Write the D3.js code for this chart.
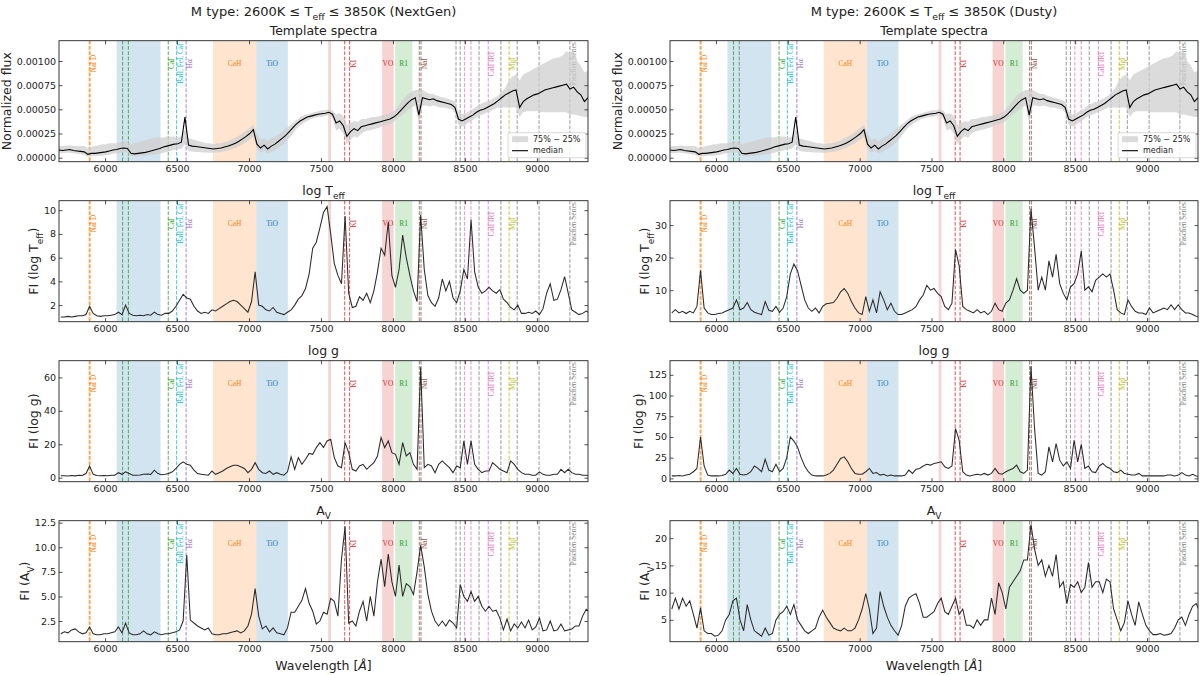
<!DOCTYPE html>
<html><head><meta charset="utf-8">
<script src="https://cdn.jsdelivr.net/npm/d3@7"></script>
<style>body{margin:0;background:#fff}svg{display:block}</style>
</head><body><svg id="c" width="1200" height="675" font-family="DejaVu Sans, sans-serif"></svg>
<script>
// ---------------- DATA ----------------
const WAVE_START = 5680, WAVE_STEP = 25, N_WAVE = 148;
const wave = d3.range(N_WAVE).map(i => WAVE_START + i * WAVE_STEP);
const FLUX_UNIT = 1e-5;

const tplMedian = [8,7.5,8,8.5,7.5,7,6.5,6,3.5,4.5,
4.5,5,5.5,6,7,8,8.5,9.5,10,9.5,
4.5,4,4.5,5,5.5,6.5,7.5,8.5,9.5,11,
12,13,14,14.5,16,42,13,12,11.5,11,
10.5,10,9.5,9,9.5,10,11,12,13.5,15,
17,19.5,22,25,29,14,10,13,9,12,
14,17,20,23,27,31,35,38,40,42,
43,44,45,45.5,46,47,45,36,38,33,
22,27,30,28,32,33,34,35,36,37,
38,39,40,42,45,49,53,57,60,62,
44,62,61,60,61,59,58,57,56,55,
52,40,38,40,42,44,47,49,50,52,
54,56,59,62,65,67,69,70,52,58,
61,63,65,66,68,70,71,72,73,74,
75,76,71,73,68,65,58,62];
const tplQ75 = [12,12,12,13,12,12,12,12,10,11,
12,13,14,14,15,15,15,16,17,17,
14,15,16,17,18,19,20,21,21,21,
22,22,22,21,22,30,20,19,18,17,
16,15,15,14,15,15,16,17,19,21,
23,25,28,31,34,25,18,20,17,20,
22,24,27,30,33,36,39,42,44,45,
46,47,48,49,49,50,49,45,46,43,
34,36,38,37,40,40,41,42,42,43,
44,45,46,48,52,57,62,66,68,70,
70,70,68,66,66,64,63,62,61,60,
58,48,45,46,48,50,53,55,57,58,
60,62,64,68,72,80,84,86,80,86,
88,90,92,94,96,98,100,102,103,104,
106,110,108,112,100,95,88,90];
const tplQ25 = [5,4.5,5,5,4.5,4,3.5,3,1,1.5,
1.5,2,2,2.5,3,4,4.5,5,5.5,5,
1.5,1.5,1.5,2,2,2.5,3,3.5,4,5,
6,7,8,8.5,9.5,14,7,6.5,6,6,
5.5,5.5,5,5,5.5,6,6.5,7.5,9,10,
12,14,16,19,22,9,5,7,4,6,
8,10,13,16,20,25,30,33,36,38,
40,41,42,42,43,44,41,28,30,25,
14,19,22,21,25,27,28,29,30,31,
33,34,35,37,40,43,46,49,52,54,
36,54,54,53,54,53,52,52,51,50,
47,34,32,34,37,39,42,44,45,47,
48,50,52,52,52,52,52,52,42,47,
48,48,48,48,47,47,47,47,47,47,
47,47,44,45,44,43,42,42];

const teffNG = [1.0,1.0,1.05,1.0,1.05,1.1,1.1,1.2,1.9,1.3,
1.1,1.05,1.1,1.1,1.15,1.2,1.4,1.2,2.0,1.3,
1.15,1.1,1.15,1.1,1.2,1.15,1.4,1.2,1.15,1.3,
1.3,1.5,1.9,2.4,2.9,2.6,2.5,1.9,1.5,1.3,
1.4,1.3,1.6,1.5,1.7,1.9,2.1,2.3,2.4,2.3,
2.0,1.7,1.4,2.3,4.8,2.0,1.9,1.6,1.5,1.8,
1.4,1.3,1.2,1.4,1.6,2.0,2.5,2.8,3.4,4.6,
6.8,7.3,8.5,9.8,10.3,8.0,5.5,4.5,3.8,9.5,
3.0,1.8,1.9,2.7,2.4,3.0,2.2,3.2,4.8,6.8,
6.2,9.0,4.5,3.5,5.0,7.9,6.0,4.5,3.2,2.3,
9.6,5.0,2.8,2.2,1.9,2.6,4.2,3.2,4.0,2.6,
2.2,3.2,5.0,4.2,9.2,4.8,3.5,3.0,3.2,3.5,
3.2,3.0,3.3,2.5,2.2,1.8,1.6,2.0,1.3,1.3,
1.4,1.3,1.5,1.2,1.7,3.0,3.8,2.4,2.5,3.3,
4.4,3.0,1.6,1.4,1.2,1.3,1.5,1.3];
const loggNG = [1.2,1.2,1.0,1.3,1.1,1.5,1.3,2.5,7.0,2.0,
1.3,1.2,1.3,1.2,1.4,1.5,3.0,2.0,3.5,2.5,
1.5,1.5,1.6,2.0,2.2,2.0,4.5,2.5,1.8,2.0,
2.5,3.5,5.5,8.0,9.5,8.0,7.5,4.5,2.5,2.0,
1.8,1.5,4.0,2.0,3.0,4.0,5.5,6.5,7.5,7.5,
6.5,5.5,3.0,5.0,9.0,5.0,3.0,2.5,4.0,2.0,
3.0,2.0,1.5,3.5,12.5,5.0,12.0,8.0,11.0,14.5,
14.0,18.0,21.0,18.0,22.0,23.0,12.0,7.0,6.0,21.0,
15.0,5.0,4.0,7.0,8.0,5.0,7.0,9.0,13.0,24.0,
18.0,22.0,15.0,14.0,8.0,21.0,13.0,15.0,8.0,5.0,
66.0,6.0,8.0,7.0,3.0,8.0,10.0,8.0,6.0,3.0,
7.0,6.0,22.0,8.0,22.0,8.0,5.0,3.0,4.0,4.0,
9.0,7.0,5.0,4.0,3.0,10.0,8.0,5.0,3.0,2.0,
2.0,1.5,1.5,3.5,2.0,1.5,1.5,2.0,2.0,5.0,
3.0,5.0,3.0,2.0,2.0,1.5,1.5,1.2];
const avNG = [1.2,1.4,1.3,1.6,1.7,1.4,1.2,1.3,1.9,1.2,
1.1,1.1,1.2,1.2,1.3,1.4,1.9,1.3,2.3,1.3,
1.1,1.1,1.2,1.5,1.2,1.1,1.4,1.2,1.1,1.2,
1.2,1.3,1.4,1.6,2.5,9.2,2.6,2.3,2.0,1.8,
1.6,1.8,1.2,1.1,1.1,1.2,1.2,1.3,1.4,1.5,
1.3,1.5,2.0,3.2,5.8,3.0,1.7,2.0,1.4,1.8,
1.3,1.2,1.1,1.8,3.4,3.4,4.0,4.6,5.8,4.3,
3.5,2.2,2.5,3.4,3.2,4.8,4.5,3.0,8.8,12.1,
2.3,2.5,2.0,3.5,4.5,2.5,5.0,3.0,6.5,8.8,
6.0,9.3,6.5,5.0,8.2,5.0,6.3,6.0,5.2,7.5,
10.2,8.0,5.2,3.5,2.5,2.0,2.5,2.0,2.6,2.3,
1.8,6.2,5.0,4.5,5.5,4.5,5.0,4.0,3.5,4.0,
3.5,3.6,2.8,1.6,2.7,1.5,2.2,1.8,2.4,1.8,
2.6,1.6,1.9,2.8,1.5,1.6,2.5,1.5,1.6,2.2,
1.5,1.6,1.7,2.0,2.0,3.0,3.7,3.4];

const teffD = [3.0,4.0,3.0,3.5,2.8,3.5,3.0,5.0,16.0,4.5,
3.0,2.5,2.5,2.8,3.0,3.5,4.0,4.5,7.0,4.0,
4.5,6.2,4.0,3.2,2.8,2.5,6.5,3.8,3.5,5.0,
3.2,4.5,8.0,15.0,18.0,16.0,11.5,7.0,4.5,3.5,
4.5,3.0,5.0,5.8,6.0,6.2,7.5,9.5,10.5,9.0,
6.5,4.5,3.0,2.5,8.0,3.5,7.0,3.0,9.5,7.0,
4.0,6.0,3.5,2.5,2.5,3.0,3.5,4.0,5.0,7.0,
8.5,11.5,10.0,10.5,9.0,8.0,5.0,4.0,6.0,22.5,
17.5,5.0,4.0,3.5,3.0,4.0,3.0,3.5,2.5,3.5,
6.0,4.0,3.5,6.0,7.0,10.0,13.5,10.0,9.0,10.0,
35.0,23.0,10.0,14.0,10.0,19.0,14.0,21.0,12.0,9.0,
7.0,11.0,12.0,15.0,22.0,10.0,11.0,9.5,13.0,14.0,
15.0,14.0,15.0,10.0,4.0,3.0,2.5,7.0,5.0,3.5,
3.0,3.0,2.5,4.5,3.0,3.5,4.0,4.5,4.0,5.5,
4.0,5.5,4.0,3.0,3.0,2.5,2.0,1.8];
const loggD = [3,3,3.5,3,4,5,8,12,50,15,
4,3,3,3,3.5,5,10,6,12,5,
4,5,8,15,12,8,23,10,8,17,
8,12,25,50,45,38,25,15,8,4,
3,3,3,4,6,10,17,24,26,20,
12,6,5,5,8,12,6,7,4,5,
3,4,3,3,3,4,10,6,11,12,
15,17,16,18,19,20,14,12,15,60,
46,8,4,3,4,5,4,6,4,6,
12,6,5,8,10,12,16,8,6,10,
135,60,6,4,8,38,20,42,22,15,
20,12,46,20,41,12,15,8,7,15,
18,14,12,8,7,10,6,5,4,4,
6,3,3,3,3,3,3,3,4,4,
3,4,7,4,3,5,3,2];
const avD = [7.0,9.0,7.0,9.0,7.5,8.5,6.0,3.5,7.2,3.0,
2.5,2.5,2.0,2.2,3.0,5.0,6.0,8.5,9.0,5.0,
3.0,7.8,5.0,3.0,2.5,2.0,3.5,2.2,2.5,5.0,
6.0,6.5,7.5,6.0,7.8,5.0,4.0,3.0,2.5,3.0,
3.5,5.5,6.8,5.5,4.5,3.5,3.2,3.0,3.5,3.0,
3.0,3.5,5.0,7.0,9.8,7.0,2.5,3.5,10.2,7.5,
5.5,4.0,3.0,2.2,4.0,7.5,9.0,9.5,9.8,8.0,
5.5,5.5,6.0,6.5,8.0,9.0,6.5,6.0,7.5,9.0,
6.0,7.0,4.0,4.0,3.5,5.0,4.0,5.0,5.0,9.0,
6.0,11.8,10.0,7.0,11.0,12.0,13.0,14.0,16.0,16.0,
22.5,18.0,15.0,16.0,13.0,15.0,13.0,17.0,11.0,12.0,
8.0,11.5,11.0,12.0,10.0,11.0,15.5,11.0,12.0,12.0,
10.0,12.5,12.0,7.0,5.0,3.0,4.5,8.5,6.0,4.0,
8.3,6.0,4.0,3.0,2.3,2.3,2.5,2.2,2.3,2.5,
3.5,5.0,5.5,4.0,6.0,7.5,8.0,6.5];

const xTicks = [6000,6500,7000,7500,8000,8500,9000];
const fluxTicks = [0,0.00025,0.0005,0.00075,0.001];
const teffNGTicks = [2,4,6,8,10];
const loggNGTicks = [0,20,40,60];
const avNGTicks = [2.5,5,7.5,10,12.5];
const teffDTicks = [10,20,30];
const loggDTicks = [0,25,50,75,100,125];
const avDTicks = [5,10,15,20];

const lineGroups = [
  {name:'NaI D', color:'#ff7f0e', waves:[5890,5896], labelAt:5896},
  {name:'CaI', color:'#2ca02c', waves:[6122,6162,6439], labelAt:6439},
  {name:'BaII, FeI, CaI', color:'#17becf', waves:[6497], labelAt:6497},
  {name:'H\u03b1', color:'#9467bd', waves:[6563], labelAt:6563},
  {name:'KI', color:'#d62728', waves:[7665,7699], labelAt:7699},
  {name:'NaI', color:'#8c564b', waves:[8183,8195], labelAt:8195},
  {name:'Paschen Series', color:'#7f7f7f', waves:[8438,8467,8598,8750,8863,9015,9229], labelAt:9229},
  {name:'CaII IRT', color:'#e377c2', waves:[8498,8542,8662], labelAt:8662},
  {name:'MgI', color:'#bcbd22', waves:[8807], labelAt:8807}
];
const bands = [
  {name:'', color:'#1f77b4', range:[6080,6385]},
  {name:'CaH', color:'#ff7f0e', range:[6750,7050]},
  {name:'TiO', color:'#1f77b4', range:[7050,7270]},
  {name:'', color:'#d62728', range:[7550,7570]},
  {name:'VO', color:'#d62728', range:[7925,8005]},
  {name:'R1', color:'#2ca02c', range:[8015,8135]}
];

// ---------------- LAYOUT ----------------
const svg = d3.select('#c');
const X_DOMAIN = [5680, 9355];
const PANEL_H = 121;
const ROW_TOPS = [40.7, 200.7, 360.7, 520.7];
const INK = '#222';
const SERIF = '"Liberation Serif", "DejaVu Serif", serif';

const cols = [
  {left:59, right:588, model:'NextGen', panels:[
    {kind:'tpl', domain:[-0.0000414,0.00121], ticks:fluxTicks, fmt:d3.format('.5f'), title:[['Template spectra']], ylab:[['Normalized flux']]},
    {kind:'fi', data:teffNG, domain:[0.6,10.8], ticks:teffNGTicks, fmt:d3.format('d'), title:[['log T'],['eff',1]], ylab:[['FI (log T'],['eff',1],[')']]},
    {kind:'fi', data:loggNG, domain:[-2.4,70], ticks:loggNGTicks, fmt:d3.format('d'), title:[['log g']], ylab:[['FI (log g)']]},
    {kind:'fi', data:avNG, domain:[0.4,12.7], ticks:avNGTicks, fmt:d3.format('.1f'), title:[['A'],['V',1]], ylab:[['FI (A'],['V',1],[')']]}
  ]},
  {left:670, right:1198, model:'Dusty', panels:[
    {kind:'tpl', domain:[-0.0000414,0.00121], ticks:fluxTicks, fmt:d3.format('.5f'), title:[['Template spectra']], ylab:[['Normalized flux']]},
    {kind:'fi', data:teffD, domain:[0.3,37.5], ticks:teffDTicks, fmt:d3.format('d'), title:[['log T'],['eff',1]], ylab:[['FI (log T'],['eff',1],[')']]},
    {kind:'fi', data:loggD, domain:[-4,142], ticks:loggDTicks, fmt:d3.format('d'), title:[['log g']], ylab:[['FI (log g)']]},
    {kind:'fi', data:avD, domain:[1.0,23.2], ticks:avDTicks, fmt:d3.format('d'), title:[['A'],['V',1]], ylab:[['FI (A'],['V',1],[')']]}
  ]}
];

function rich(sel, parts, fs){
  let shifted = false;
  parts.forEach(([t, sub]) => {
    const ts = sel.append('tspan').text(t);
    if (sub) { ts.attr('font-size', fs*0.72); if (!shifted) { ts.attr('dy', fs*0.3); shifted = true; } }
    else if (shifted) { ts.attr('dy', -fs*0.3); shifted = false; }
  });
}

let clipN = 0;
function drawPanel(col, row, spec){
  const top = ROW_TOPS[row], bottom = top + PANEL_H;
  const x = d3.scaleLinear().domain(X_DOMAIN).range([col.left, col.right]);
  const y = d3.scaleLinear().domain(spec.domain).range([bottom, top]);
  const g = svg.append('g');
  const id = 'clip' + (clipN++);
  g.append('clipPath').attr('id', id).append('rect')
    .attr('x', col.left).attr('y', top).attr('width', col.right - col.left).attr('height', PANEL_H);
  const inner = g.append('g').attr('clip-path', `url(#${id})`);

  inner.selectAll('rect.band').data(bands).join('rect').attr('class','band')
    .attr('x', d => x(d.range[0])).attr('width', d => x(d.range[1]) - x(d.range[0]))
    .attr('y', top).attr('height', PANEL_H).attr('fill', d => d.color).attr('fill-opacity', 0.2);

  const flat = lineGroups.flatMap(gr => gr.waves.map(w => ({w, color: gr.color})));
  inner.selectAll('line.sl').data(flat).join('line').attr('class','sl')
    .attr('x1', d => x(d.w)).attr('x2', d => x(d.w)).attr('y1', top).attr('y2', bottom)
    .attr('stroke', d => d.color).attr('stroke-width', 1).attr('stroke-dasharray', '3.7,1.6').attr('stroke-opacity', 0.8);

  const ly = top + PANEL_H * 0.19;
  lineGroups.forEach(gr => {
    inner.append('text').attr('transform', `translate(${x(gr.labelAt) + 4},${ly}) rotate(-90)`)
      .attr('text-anchor', 'middle').attr('dominant-baseline', 'central')
      .style('font-family', SERIF).attr('font-size', 7.2)
      .attr('fill', gr.color).text(gr.name);
  });
  bands.filter(b => b.name).forEach(b => {
    inner.append('text').attr('x', x((b.range[0] + b.range[1]) / 2)).attr('y', ly)
      .attr('text-anchor', 'middle').attr('dominant-baseline', 'central')
      .style('font-family', SERIF).attr('font-size', 7.5)
      .attr('fill', b.color).text(b.name);
  });

  if (spec.kind === 'tpl') {
    const area = d3.area().x((d, i) => x(wave[i])).y0((d, i) => y(tplQ25[i] * FLUX_UNIT)).y1((d, i) => y(tplQ75[i] * FLUX_UNIT));
    inner.append('path').datum(tplQ75).attr('d', area).attr('fill', '#cfcfcf').attr('fill-opacity', 0.75);
    const ln = d3.line().x((d, i) => x(wave[i])).y(d => y(d * FLUX_UNIT));
    inner.append('path').datum(tplMedian).attr('d', ln).attr('fill', 'none').attr('stroke', '#000').attr('stroke-width', 1.1);
  } else {
    const ln = d3.line().x((d, i) => x(wave[i] + WAVE_STEP / 2)).y(d => y(d));
    inner.append('path').datum(spec.data).attr('d', ln).attr('fill', 'none')
      .attr('stroke', '#2a2a2a').attr('stroke-width', 1.05);
  }

  g.append('rect').attr('x', col.left).attr('y', top).attr('width', col.right - col.left).attr('height', PANEL_H)
    .attr('fill', 'none').attr('stroke', INK).attr('stroke-width', 0.9);

  const style = a => { a.select('.domain').remove(); a.attr('font-size', 9.5).attr('font-family', 'DejaVu Sans, sans-serif');
    a.selectAll('line').attr('stroke', INK).attr('stroke-width', 0.8); a.selectAll('text').attr('fill', INK); };
  g.append('g').attr('transform', `translate(0,${bottom})`)
    .call(d3.axisBottom(x).tickValues(xTicks).tickFormat(d3.format('d')).tickSizeInner(-3.5).tickSizeOuter(0).tickPadding(4)).call(style);
  g.append('g').attr('transform', `translate(0,${top})`)
    .call(d3.axisTop(x).tickValues(xTicks).tickSizeInner(-3.5).tickSizeOuter(0).tickFormat('')).call(style);
  const la = g.append('g').attr('transform', `translate(${col.left},0)`)
    .call(d3.axisLeft(y).tickValues(spec.ticks).tickFormat(spec.fmt).tickSizeInner(-3.5).tickSizeOuter(0).tickPadding(3)).call(style);
  g.append('g').attr('transform', `translate(${col.right},0)`)
    .call(d3.axisRight(y).tickValues(spec.ticks).tickSizeInner(-3.5).tickSizeOuter(0).tickFormat('')).call(style);

  const bb = la.node().getBBox();
  const lx = col.left + bb.x - 3;
  const yl = g.append('text').attr('transform', `translate(${lx},${(top + bottom) / 2}) rotate(-90)`)
    .attr('text-anchor', 'middle').attr('dominant-baseline', 'text-after-edge').attr('font-size', 12.5).attr('fill', INK);
  rich(yl, spec.ylab, 12.5);

  const tt = g.append('text').attr('x', (col.left + col.right) / 2).attr('y', top - 5.5)
    .attr('text-anchor', 'middle').attr('font-size', 12.5).attr('fill', INK);
  rich(tt, spec.title, 12.5);

  if (spec.kind === 'tpl') {
    const lg = g.append('g').attr('transform', `translate(${col.right - 80},${bottom - 29})`);
    lg.append('rect').attr('width', 78).attr('height', 25).attr('rx', 2).attr('fill', '#fff').attr('fill-opacity', 0.85)
      .attr('stroke', '#d0d0d0').attr('stroke-width', 0.8);
    lg.append('rect').attr('x', 4).attr('y', 3.5).attr('width', 16).attr('height', 6).attr('fill', '#cfcfcf').attr('fill-opacity', 0.75);
    lg.append('text').attr('x', 25).attr('y', 6.5).attr('dominant-baseline', 'central').attr('font-size', 8).attr('fill', INK).text('75% \u2212 25%');
    lg.append('line').attr('x1', 4).attr('x2', 20).attr('y1', 18).attr('y2', 18).attr('stroke', '#000').attr('stroke-width', 1.1);
    lg.append('text').attr('x', 25).attr('y', 18).attr('dominant-baseline', 'central').attr('font-size', 8).attr('fill', INK).text('median');
  }

  if (row === 3) {
    const xl = g.append('text').attr('x', (col.left + col.right) / 2).attr('y', 670)
      .attr('text-anchor', 'middle').attr('font-size', 12.5).attr('fill', INK);
    xl.append('tspan').text('Wavelength [');
    xl.append('tspan').attr('font-style', 'italic').text('\u00c5');
    xl.append('tspan').text(']');
  }
}

cols.forEach(col => {
  const st = svg.append('text').attr('x', (col.left + col.right) / 2).attr('y', 16)
    .attr('text-anchor', 'middle').attr('font-size', 13).attr('fill', INK);
  rich(st, [['M type: 2600K \u2264 T'], ['eff', 1], [' \u2264 3850K (' + col.model + ')']], 13);
  col.panels.forEach((p, r) => drawPanel(col, r, p));
});
</script></body></html>
